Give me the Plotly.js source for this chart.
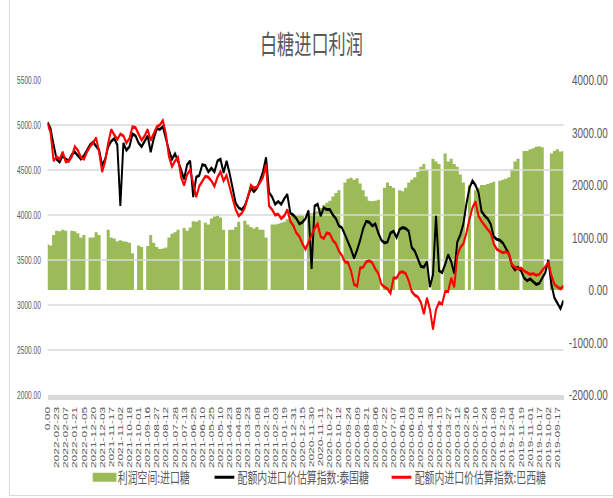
<!DOCTYPE html>
<html><head><meta charset="utf-8">
<script src="https://cdn.plot.ly/plotly-3.0.1.min.js"></script>
<style>
html,body{margin:0;padding:0;background:#fff;overflow:hidden;}
#wrap{position:relative;width:613px;height:498px;overflow:hidden;background:#fff;}
#frame{position:absolute;left:9px;top:-10px;width:700px;height:504px;border:1px solid #d9d9d9;box-sizing:content-box;pointer-events:none;}
#chart{position:absolute;left:0;top:0;width:929px;height:498px;transform:scaleX(0.65985);transform-origin:0 0;}
#chart .ytick text{text-anchor:end !important;}
#chart .legend .legendfill path{d:path("M2,-4.5H38V4.5H2Z");}
</style></head>
<body><div id="wrap"><div id="chart"></div><div id="frame"></div></div>
<script>
// x-axis category labels (one every 3 data points)
const tickLabels = ["0.00","2022-02-23","2022-02-07","2022-01-21","2022-01-05","2021-12-20","2021-12-03","2021-11-17","2021-11-02","2021-10-18","2021-10-01","2021-09-16","2021-08-27","2021-08-12","2021-07-28","2021-07-13","2021-06-25","2021-06-10","2021-05-25","2021-05-10","2021-04-23","2021-04-08","2021-03-23","2021-03-08","2021-02-19","2021-02-03","2021-01-19","2020-12-31","2020-12-15","2020-11-30","2020-11-11","2020-10-27","2020-10-12","2020-09-24","2020-09-09","2020-08-21","2020-08-06","2020-07-22","2020-07-07","2020-06-18","2020-06-03","2020-05-18","2020-04-30","2020-04-15","2020-03-27","2020-03-12","2020-02-26","2020-02-10","2020-01-24","2020-01-08","2019-12-19","2019-12-04","2019-11-19","2019-11-01","2019-10-17","2019-10-02","2019-09-17"];
const pointsPerLabel = 3;

// axis tick labels
const leftTickText = ["2000.00","2500.00","3000.00","3500.00","4000.00","4500.00","5000.00","5500.00"];
const rightTickText = ["-2000.00","-1000.00","0.00","1000.00","2000.00","3000.00","4000.00"];

// series names
const nameProfit = "利润空间:进口糖";
const nameThai = "配额内进口价估算指数:泰国糖";
const nameBrazil = "配额内进口价估算指数:巴西糖";

// 利润空间:进口糖 (right axis); 0 = no data
const profit = [870,850,1050,1130,1120,1150,1130,0,1130,1120,1080,1000,1050,0,1000,1000,1100,1050,0,0,1150,1000,980,930,950,930,920,900,700,0,850,820,0,840,
1050,900,820,780,790,810,1000,1070,1100,1150,0,1180,1130,1190,1310,1300,1330,0,1280,1250,1360,1400,1420,1380,1150,0,1150,1150,1200,1300,0,1320,1250,1200,
1170,1200,1150,1150,1000,0,1250,1250,1260,1280,1300,1350,1420,1440,1420,1430,1420,0,1450,1460,1480,1500,1560,1620,1660,1700,1780,1850,1900,0,2050,2120,2140,2100,2130,
2030,1900,1780,1700,1690,1700,1720,0,1950,2050,1980,1950,0,1900,1880,1950,2050,2100,2150,2250,2350,2400,2300,0,2500,2450,2400,0,2600,2450,2500,2400,2350,2200,
2050,0,2000,0,1900,1950,2000,2000,2020,2040,2060,0,2080,2100,2120,2150,2300,2450,2500,0,2650,2650,2680,2700,2730,2740,2720,0,0,2600,2650,2680,2640,2650];

// 配额内进口价估算指数:泰国糖 (left axis)
const thai = [5030,4960,4780,4620,4590,4660,4620,4600,4670,4700,4660,4620,4660,4720,4780,4810,4760,4720,4550,4620,4760,4820,4850,4780,4100,4800,4720,4760,4900,4880,4800,4760,4820,4880,
4700,4850,4960,4950,4980,4850,4720,4620,4680,4600,4500,4400,4560,4600,4200,4420,4440,4560,4550,4480,4520,4480,4600,4620,4470,4600,4460,4300,4130,4080,4060,4100,4200,4300,
4260,4300,4380,4480,4640,4250,4200,4120,4150,4120,4180,4230,4020,4000,3960,3900,3920,3960,4050,3400,4100,4120,3990,4080,4060,4060,4000,3960,3880,3860,3780,3700,3620,3520,3610,
3720,3850,3930,3920,3880,3900,3800,3720,3690,3700,3800,3820,3750,3840,3860,3850,3820,3640,3600,3520,3430,3420,3480,3200,3340,3990,3380,3360,3450,3560,3480,3350,3700,3780,
3900,4120,4300,4380,4330,4250,4040,3990,3960,3900,3760,3730,3720,3690,3630,3570,3440,3390,3420,3380,3300,3270,3290,3260,3230,3240,3300,3360,3500,3230,3080,3020,2960,3050];

// 配额内进口价估算指数:巴西糖 (left axis)
const brazil = [5010,4920,4600,4650,4620,4700,4590,4600,4650,4760,4720,4640,4620,4700,4760,4800,4860,4700,4480,4600,4800,4950,4890,4840,4900,4880,4800,4850,4980,4970,4900,4830,4880,4950,
4830,4900,4980,5000,5050,4900,4650,4540,4600,4640,4420,4330,4450,4500,4350,4200,4320,4380,4430,4420,4380,4320,4420,4480,4380,4440,4300,4180,4060,3990,4020,4080,4200,4330,
4300,4310,4360,4420,4560,4100,4060,4000,4010,3960,3990,4060,3930,3880,3800,3760,3680,3620,3700,3780,3850,3900,3760,3740,3800,3790,3720,3680,3600,3550,3480,3470,3380,3230,3210,
3410,3420,3480,3490,3470,3400,3350,3230,3200,3180,3130,3300,3300,3360,3370,3350,3270,3150,3110,3090,3030,2900,3080,2950,2730,2950,3030,3010,3150,3150,3300,3200,3550,3640,
3680,3800,3950,4080,4150,3990,3930,3880,3840,3800,3680,3620,3600,3580,3590,3570,3450,3420,3400,3410,3380,3360,3340,3350,3330,3340,3380,3420,3470,3330,3230,3200,3180,3210];

const tickVals = tickLabels.map((_, k) => k * pointsPerLabel);
const xRange = [0, profit.length - 1];

const numFont = 'Liberation Sans, Arial, sans-serif';
const cjkFont = '"Noto Sans CJK SC", "Noto Sans", sans-serif';
const grey = '#595959';
const green = '#9bbb59';

const data = [
  {type:'scatter', mode:'none', name:nameProfit, y:profit, xaxis:'x', yaxis:'y',
   fill:'tozeroy', fillcolor:green, line:{shape:'hvh', width:0, color:green},
   legendwidth:136.6, hoverinfo:'skip'},
  {type:'scatter', mode:'lines', name:nameThai, y:thai, xaxis:'x2', yaxis:'y2',
   line:{color:'#000000', width:3}, legendwidth:223.4, hoverinfo:'skip'},
  {type:'scatter', mode:'lines', name:nameBrazil, y:brazil, xaxis:'x2', yaxis:'y2',
   line:{color:'#ff0000', width:3}, hoverinfo:'skip'}
];

const layout = {
  width:929, height:498,
  margin:{l:72.3, r:74.7, t:80, b:103, pad:0, autoexpand:false},
  paper_bgcolor:'rgba(0,0,0,0)', plot_bgcolor:'rgba(0,0,0,0)',
  showlegend:true,
  title:{text:'白糖进口利润', font:{family:cjkFont, size:26, color:grey},
         x:0.508, xanchor:'center', xref:'container', y:1-45/498, yanchor:'middle', yref:'container'},
  xaxis:{domain:[0,1], anchor:'y', range:xRange, showticklabels:false, showgrid:false,
         zeroline:false, showline:false, ticks:'', automargin:false},
  yaxis:{anchor:'x', side:'right', range:[-2000,4000], tickmode:'array',
         tickvals:rightTickText.map(Number), ticktext:rightTickText,
         showgrid:false, zeroline:false, showline:false, ticks:'', automargin:false,
         tickfont:{family:numFont, size:15, color:grey}, ticklabelstandoff:66},
  xaxis2:{domain:[0,1], anchor:'y2', range:xRange, tickmode:'array', tickvals:tickVals,
          ticktext:tickLabels, tickangle:-90, tickfont:{family:numFont, size:12, color:grey},
          showgrid:false, zeroline:false, showline:true, linecolor:'#d9d9d9', linewidth:5, ticks:'',
          ticklabelstandoff:2, automargin:false},
  yaxis2:{anchor:'x2', side:'left', range:[2000,5500], tickmode:'array',
          tickvals:leftTickText.map(Number), ticktext:leftTickText,
          showgrid:true, gridcolor:'#d9d9d9', gridwidth:1.5, zeroline:false, showline:false, ticks:'',
          tickfont:{family:numFont, size:10, color:grey}, ticklabelstandoff:9, automargin:false},
  legend:{orientation:'h', x:0.085, xanchor:'left', y:-0.262, yanchor:'middle',
          font:{family:cjkFont, size:15, color:grey}, bgcolor:'rgba(0,0,0,0)', borderwidth:0,
          traceorder:'normal'}
};

Plotly.newPlot('chart', data, layout, {displayModeBar:false, staticPlot:true});
</script></body></html>
